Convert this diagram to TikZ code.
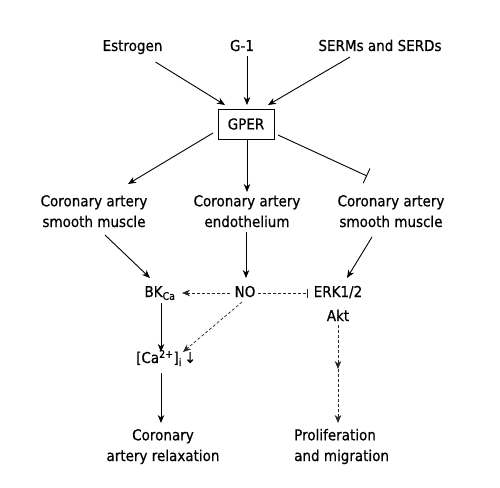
\documentclass[tikz,border=0pt]{standalone}
\usepackage{fontspec}
\setmainfont{DejaVu Sans}[FakeStretch=0.9,FakeBold=0.5]
\usetikzlibrary{arrows.meta}
\begin{document}
\begin{tikzpicture}[x=1pt,y=-1pt,
  every node/.style={font=\fontsize{15}{20.7}\selectfont, inner sep=0pt},
  lbl/.style={anchor=base},
  ml/.style={align=center, anchor=base},
  arr/.style={-{Stealth[length=8pt,width=6.5pt,inset=2.5pt]}, line width=0.9pt},
  darr/.style={-{Stealth[length=8pt,width=6.5pt,inset=2.5pt]}, dash pattern=on 3pt off 2pt, line width=0.7pt, black!85},
  inh/.style={-{Bar[width=16pt]}, line width=0.9pt},
  dinh/.style={-{Bar[width=9pt]}, dash pattern=on 3pt off 2pt, line width=0.7pt, black!85},
  gperbox/.style={draw, line width=1pt, minimum width=56pt, minimum height=30pt}]
\useasboundingbox[fill=white] (0,0) rectangle (500,487);
% nodes
\node[lbl] (Estrogen) at (132.5,51) {Estrogen};
\node[lbl] (G1) at (242,51) {G-1};
\node[lbl] (SERMs) at (380,51) {SERMs and SERDs};
\node[gperbox] (GPER) at (246,124) {GPER};
\node[ml] (Lsm) at (94,227) {Coronary artery\\smooth muscle};
\node[ml] (Endo) at (247,227) {Coronary artery\\endothelium};
\node[ml] (Rsm) at (391,227) {Coronary artery\\smooth muscle};
\node[lbl] (BK) at (160,297) {BK\textsubscript{Ca}};
\node[lbl] (NO) at (245,297) {NO};
\node[lbl] (ERK) at (338,297) {ERK1/2};
\node[lbl] (Akt) at (338,321) {Akt};
\coordinate (mid) at (338,369);
\node[lbl] (Ca) at (166,363) {[Ca\textsuperscript{2+}]\textsubscript{i}\,↓};
\node[ml] (Relax) at (163,461) {Coronary\\artery relaxation};
\node[align=left, anchor=base west] (Prolif) at (294,461) {Proliferation\\and migration};
% connectors
\draw[arr] ([shift={(23,11)}]Estrogen.base) -- ([shift={(-21,-19)}]GPER.center);
\draw[arr] ([shift={(5,5)}]G1.base) -- ([shift={(1,-19)}]GPER.center);
\draw[arr] ([shift={(-30,6)}]SERMs.base) -- ([shift={(22,-19)}]GPER.center);
\draw[arr] ([shift={(-33,9)}]GPER.center) -- ([shift={(34,-43)}]Lsm.base);
\draw[arr] ([shift={(1,15)}]GPER.center) -- ([shift={(0,-35)}]Endo.base);
\draw[inh] ([shift={(32,11)}]GPER.center) -- ([shift={(-24,-51)}]Rsm.base);
\draw[arr] ([shift={(11,8)}]Lsm.base) -- ([shift={(-10,-19)}]BK.base);
\draw[arr] ([shift={(-1,5)}]Endo.base) -- ([shift={(1,-19)}]NO.base);
\draw[arr] ([shift={(-19,10)}]Rsm.base) -- ([shift={(9,-19)}]ERK.base);
\draw[darr] ([shift={(-15,-4)}]NO.base) -- ([shift={(22,-4)}]BK.base);
\draw[dinh] ([shift={(13,-4)}]NO.base) -- ([shift={(-30,-4)}]ERK.base);
\draw[darr] ([shift={(-3,5)}]NO.base) -- ([shift={(17,-11)}]Ca.base);
\draw[arr] ([shift={(1,6)}]BK.base) -- ([shift={(-5,-11)}]Ca.base);
\draw[darr] ([shift={(0,4)}]Akt.base) -- (mid);
\draw[darr] (mid) -- ([shift={(44,-38)}]Prolif.base west);
\draw[arr] ([shift={(-5,10)}]Ca.base) -- ([shift={(-2,-38)}]Relax.base);
\end{tikzpicture}
\end{document}
